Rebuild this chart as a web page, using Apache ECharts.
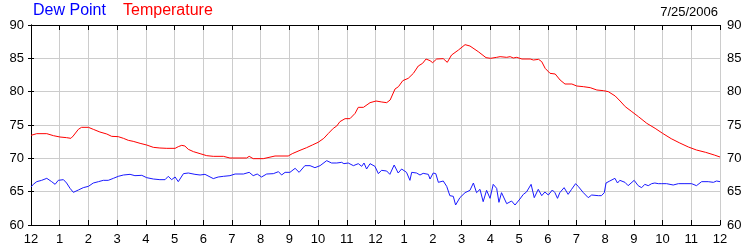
<!DOCTYPE html>
<html>
<head>
<meta charset="utf-8">
<script src="https://cdn.jsdelivr.net/npm/echarts@6/dist/echarts.min.js"></script>
<style>
html,body{margin:0;padding:0;background:#fff;}
#chart{width:750px;height:250px;}
</style>
</head>
<body>
<div id="chart"></div>
<script>
var hourLabels = ['12','1','2','3','4','5','6','7','8','9','10','11','12','1','2','3','4','5','6','7','8','9','10','11','12'];
var yTicks = [60, 65, 70, 75, 80, 85, 90];

var tempHours = [0,0.2,0.55,0.78,1.01,1.24,1.39,1.47,1.65,1.76,2.0,2.17,2.4,2.64,2.81,3.04,3.22,3.39,3.56,3.8,4.03,4.26,4.49,4.73,5.02,5.13,5.25,5.36,5.48,5.66,5.89,6.12,6.35,6.7,6.93,7.28,7.51,7.6,7.74,8.09,8.5,8.96,9.1,9.37,9.6,9.8,10.0,10.2,10.35,10.53,10.65,10.76,10.94,11.11,11.29,11.4,11.58,11.81,12.02,12.22,12.39,12.51,12.68,12.8,12.95,13.14,13.32,13.49,13.64,13.76,13.9,13.99,14.13,14.36,14.5,14.65,14.89,15.12,15.29,15.58,15.85,16.01,16.22,16.34,16.57,16.69,16.8,16.92,17.1,17.39,17.5,17.68,17.79,17.91,18.08,18.26,18.43,18.6,18.84,19.01,19.24,19.48,19.71,19.94,20.11,20.35,20.52,20.7,20.93,21.16,21.45,21.74,22.0,22.3,22.6,22.9,23.18,23.5,23.8,24.0];
var tempValues = [73.45,73.7,73.7,73.4,73.2,73.1,73.0,73.35,74.35,74.65,74.65,74.35,73.95,73.65,73.3,73.25,73.0,72.7,72.55,72.25,72.0,71.65,71.55,71.5,71.5,71.75,71.95,71.85,71.35,71.0,70.7,70.4,70.3,70.3,70.05,70.05,70.05,70.3,69.95,69.95,70.35,70.35,70.7,71.2,71.6,72.0,72.4,73.0,73.7,74.5,74.85,75.5,75.95,75.95,76.75,77.65,77.65,78.35,78.6,78.45,78.35,78.75,80.4,80.75,81.65,82.0,82.75,83.85,84.25,84.9,84.65,84.35,84.9,84.95,84.4,85.5,86.25,87.05,86.85,86.0,85.1,85.0,85.15,85.25,85.15,85.25,85.05,85.15,84.9,84.9,84.75,84.85,84.5,83.5,82.75,82.65,81.75,81.15,81.15,80.85,80.75,80.6,80.25,80.15,80.0,79.35,78.6,77.75,77.0,76.25,75.25,74.5,73.75,72.95,72.3,71.7,71.25,70.9,70.5,70.2];

var dewHours = [0,0.08,0.2,0.37,0.55,0.72,0.84,0.95,1.13,1.24,1.36,1.475,1.65,1.82,2.0,2.17,2.35,2.52,2.69,2.87,3.04,3.22,3.45,3.62,3.86,4.03,4.26,4.49,4.67,4.78,4.9,5.02,5.13,5.31,5.48,5.71,5.89,6.06,
6.12,6.35,6.52,6.7,6.76,6.93,7.11,7.4,7.6,7.74,7.88,8.03,8.21,8.44,8.62,8.73,8.85,9.02,9.2,9.34,9.54,9.72,9.89,10.07,10.3,10.47,10.65,10.82,10.9,11.05,11.23,11.4,11.52,11.6,11.69,11.81,11.98,
12.1,12.21,12.39,12.5,12.65,12.79,12.91,13.08,13.2,13.26,13.43,13.55,13.66,13.84,13.9,14.01,14.1,14.19,14.36,14.48,14.59,14.71,14.79,14.94,15.12,15.29,15.41,15.52,15.64,15.75,15.87,15.99,16.1,16.22,16.3,16.39,16.57,16.74,16.86,17.03,17.15,17.26,17.42,17.53,17.67,17.79,17.9,18.02,
18.16,18.25,18.34,18.42,18.57,18.71,18.83,18.97,19.06,19.24,19.41,19.53,19.76,19.87,19.97,20.03,20.16,20.34,20.43,20.51,20.69,20.8,21.01,21.15,21.27,21.38,21.5,21.62,21.73,21.85,21.97,22.14,22.37,22.55,22.78,23.01,23.18,23.36,23.59,23.77,23.88,24.0];
var dewValues = [65.7,66.1,66.5,66.7,67.0,66.5,66.1,66.7,66.8,66.3,65.5,64.9,65.25,65.6,65.8,66.3,66.5,66.7,66.7,67.0,67.3,67.5,67.6,67.4,67.45,67.1,66.9,66.8,66.8,67.3,66.8,67.2,66.5,67.7,67.8,67.6,67.5,67.6,
67.4,66.96,67.2,67.3,67.6,67.4,67.65,67.65,67.9,67.4,67.65,67.2,67.65,67.7,68.0,67.5,67.9,67.9,68.5,67.9,68.9,68.9,68.6,68.9,69.65,69.3,69.3,69.4,69.2,69.3,68.9,69.2,68.8,69.3,68.4,69.2,68.8,
67.7,68.2,68.1,67.6,69.0,67.8,68.4,67.9,66.7,67.9,67.8,67.5,67.75,67.6,66.9,67.8,67.7,66.4,66.6,65.8,64.4,64.3,63.0,64.1,64.85,65.2,66.3,64.85,65.35,63.5,65.2,64.0,66.1,65.5,63.4,64.85,63.2,63.6,63.0,63.9,64.6,64.95,66.1,64.1,65.35,64.4,64.95,64.5,
65.25,64.85,64.0,64.85,65.6,64.6,65.35,66.2,65.8,64.85,64.1,64.5,64.4,64.4,64.85,66.3,66.6,67.0,66.3,66.7,66.4,65.9,66.7,65.9,65.6,66.1,65.9,66.2,66.3,66.2,66.2,66.2,66.0,66.2,66.2,66.2,65.9,66.5,66.5,66.4,66.6,66.5];

function pairs(xs, ys) {
  var out = [];
  for (var i = 0; i < xs.length; i++) out.push([xs[i], ys[i]]);
  return out;
}

var chart = echarts.init(document.getElementById('chart'), null, {renderer: 'canvas'});
var font = 'Liberation Sans, Arial, sans-serif';
var yAxisBase = {
  type: 'value', min: yTicks[0], max: yTicks[yTicks.length - 1], interval: 5,
  axisLine: {show: true, lineStyle: {color: '#000', width: 1}},
  axisTick: {show: true, inside: false, length: 3, lineStyle: {color: '#000'}},
  axisLabel: {color: '#000', fontSize: 13, fontFamily: font, margin: 7},
  splitLine: {show: false}
};
chart.setOption({
  animation: false,
  backgroundColor: '#fff',
  title: [
    {text: 'Dew Point', left: 33, top: 3, padding: 0, textStyle: {color: '#0000ff', fontSize: 16, fontWeight: 'normal', fontFamily: font}},
    {text: 'Temperature', left: 123, top: 3, padding: 0, textStyle: {color: '#ff0000', fontSize: 16, fontWeight: 'normal', fontFamily: font}},
    {text: '7/25/2006', right: 32, top: 6, padding: 0, textStyle: {color: '#000', fontSize: 13, fontWeight: 'normal', fontFamily: font}}
  ],
  grid: {left: 31, right: 30, top: 25, bottom: 25, containLabel: false, show: false},
  xAxis: [
    {
      type: 'value', min: 0, max: 24, interval: 1, position: 'bottom',
      axisLine: {show: true, onZero: false, lineStyle: {color: '#000', width: 1}},
      axisTick: {show: true, inside: true, length: 5, lineStyle: {color: '#000'}},
      axisLabel: {color: '#000', fontSize: 13, fontFamily: font, margin: 8,
        formatter: function (v) { return hourLabels[Math.round(v)]; }},
      splitLine: {show: true, lineStyle: {color: '#cccccc', width: 1}}
    },
    {
      type: 'value', min: 0, max: 24, interval: 1, position: 'top',
      axisLine: {show: true, onZero: false, lineStyle: {color: '#000', width: 1}},
      axisTick: {show: true, inside: true, length: 5, lineStyle: {color: '#000'}},
      axisLabel: {show: false},
      splitLine: {show: false}
    }
  ],
  yAxis: [
    Object.assign({}, yAxisBase, {position: 'left', splitLine: {show: true, lineStyle: {color: '#cccccc', width: 1}}}),
    Object.assign({}, yAxisBase, {position: 'right'})
  ],
  series: [
    {name: 'Temperature', type: 'line', xAxisIndex: 0, yAxisIndex: 0, data: pairs(tempHours, tempValues),
      showSymbol: false, symbol: 'none', lineStyle: {color: '#ff0000', width: 1}, itemStyle: {color: '#ff0000'}},
    {name: 'Dew Point', type: 'line', xAxisIndex: 0, yAxisIndex: 0, data: pairs(dewHours, dewValues),
      showSymbol: false, symbol: 'none', lineStyle: {color: '#1a1aff', width: 1}, itemStyle: {color: '#1a1aff'}}
  ]
});
</script>
</body>
</html>
